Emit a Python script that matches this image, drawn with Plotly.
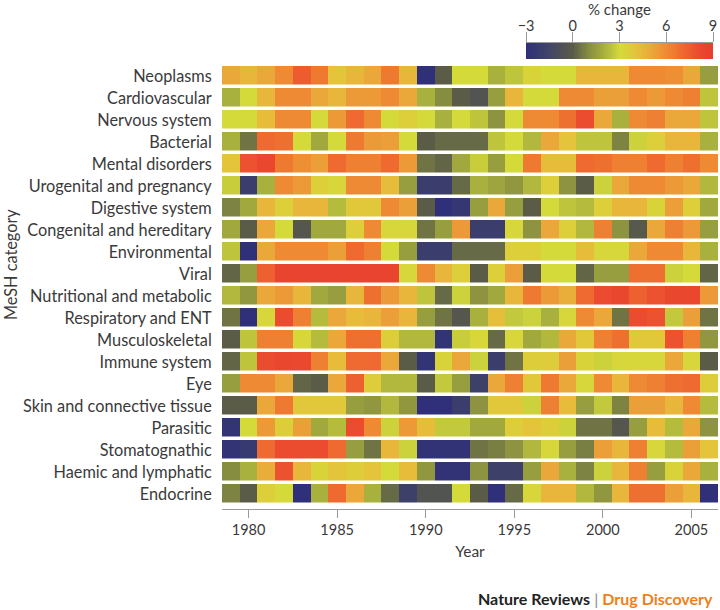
import numpy as np
import plotly.graph_objects as go

# MeSH categories (top to bottom) and years
categories = [
    "Neoplasms", "Cardiovascular", "Nervous system", "Bacterial", "Mental disorders",
    "Urogenital and pregnancy", "Digestive system", "Congenital and hereditary",
    "Environmental", "Viral", "Nutritional and metabolic", "Respiratory and ENT",
    "Musculoskeletal", "Immune system", "Eye", "Skin and connective tissue",
    "Parasitic", "Stomatognathic", "Haemic and lymphatic", "Endocrine",
]
years = list(range(1979, 2007))

# % change per category per year (1979 -> 2006)
neoplasms = [5, 4.5, 5, 6, 7.5, 6.5, 4, 4.5, 5, 6.5, 4.5, -3, 0, 3,
             3, 2, 2.5, 3.3, 3, 3, 4.5, 4.5, 4.5, 6, 6, 5.8, 5, 1.5]
cardiovascular = [2, 3, 4.5, 6, 6, 5, 4.5, 5.5, 5.5, 6, 5, 2, 1, 0,
                  -0.5, 1.5, 4.5, 3, 3, 6, 6, 5.3, 5.3, 6, 5.5, 6, 6.3, 2.5]
nervous = [3, 3, 4.3, 6, 6, 3, 5.5, 7, 6, 3, 3.5, 3, 2, 3,
           2.5, 1.2, 3, 6, 6, 6.8, 8, 5, 2, 6, 6.3, 5, 5, 2.5]
bacterial = [2, 0.5, 7, 6.8, 3, 1.8, 3, 6.5, 5.5, 5.3, 3, 0, 0.3, 0.3,
             0.3, 2.5, 3, 2.2, 5, 4, 2.5, 2.5, 0.8, 2.8, 3.5, 4.5, 4.5, 2]
mental = [4, 7.8, 8.3, 6.5, 5.8, 5.3, 7, 6.3, 6.3, 7, 5.5, 0.5, 0.2, 1.8,
          2.7, 1.5, 3, 6.5, 4.3, 4.3, 7, 6.8, 6.3, 6.3, 7, 6.3, 6.8, 6]
urogenital = [2.7, -2, 2, 6, 5.5, 3.5, 3.2, 6, 6, 4.3, 1.5, -2, -2, 0.3,
              2, 1.7, 1.3, 2.2, 3.5, 1.2, 0, 2.8, 5, 6, 6, 5.5, 5, 2.2]
digestive = [0.8, 1.8, 4.5, 3.5, 4.5, 4.5, 2.3, 3.8, 3.8, 6, 5.3, 0, -3, -2.5,
             1.5, 5, 1.5, 0, 3, 2.5, 2.3, 3.5, 4.5, 4.5, 3.3, 5.3, 3.5, 1.8]
congenital = [1.8, 0, 5, 3, -0.3, 1.8, 1.8, 3.5, 6, 3.2, 3.2, 0.5, 1.5, 5.5,
              -2, -2, 3.2, 1.2, 5, 3.5, 2.2, 6.3, 1.2, -0.2, 5, 6.3, 5.5, 1.5]
environmental = [2.5, -3, 5, 6, 6, 6, 5.3, 7, 6.3, 3, 1.5, -2, -2, 0.3,
                 0.3, 0.3, 3.5, 3.5, 3, 3, 4.3, 3.2, 3.2, 5, 6, 6, 4.5, 2]
viral = [0.2, 1.5, 7.3, 8.5, 8.5, 8.5, 8.5, 8.5, 8.5, 8.5, 3.2, 6, 4.5, 3.5,
         0, 3.5, 5.3, 0, 3, 3, 0.2, 1.5, 1.5, 6.8, 6.8, 2.8, 3, 0.2]
nutritional = [2.2, 1.3, 5, 5.5, 4.5, 1.8, 1.5, 4.5, 6.8, 5.5, 4.5, 2.5, 0.3, 2.8,
               1.2, 1.8, 4.5, 6.5, 5.5, 4.8, 7, 8, 8.3, 7.3, 7.8, 8.3, 8.3, 5.5]
respiratory = [0.5, -3, 3.2, 8, 6.3, 2.3, 5, 4.3, 4.5, 5.3, 4.5, 1.5, 0.5, -0.3,
               2, 4.2, 2.6, 2.8, 2, 3.2, 6, 5, 0.5, 8, 7.8, 2.6, 5.3, 0.5]
musculoskeletal = [0, 2.5, 6.3, 6.3, 3.2, 2.3, 5, 6.8, 6.8, 3.6, 2.2, 2.2, -2.7, 2.7,
                   3.2, 0.3, 3.2, 1.8, 2.2, 5, 3.8, 6.3, 6.8, 3.8, 3.8, 7.8, 6.3, 1.3]
immune = [0.2, 2.5, 8, 8.3, 8.2, 6.3, 4.3, 7, 7, 5, 0, -2.7, 3.3, 5,
          2.8, -2, 0.5, 3.6, 3.6, 5.3, 3.3, 2.8, 3.2, 3.2, 3.2, 5, 3.2, 0]
eye = [1.5, 6, 6, 5, 0.2, 0, 5, 7.3, 3.6, 2.2, 2.2, 0, 2.6, 1.5,
       -1.8, 5, 6.3, 3.8, 6.5, 5, 3.2, 6, 4.5, 6, 6.3, 6.8, 7, 3.6]
skin = [0, 0, 5, 6.5, 3.8, 3.8, 3.8, 1.5, 1.3, 2.2, 1.3, -3, -3, -2,
        1.2, 3.8, 3.8, 2.8, 6.3, 4.3, 1.5, 2.6, 0.8, 5.3, 5.3, 4.5, 6, 2.3]
parasitic = [-2.7, 3, 5.5, 3.6, 5.3, 1.8, 2.3, 8, 6, 2.8, 5.5, 4.3, 2.6, 2.6,
             1.8, 1.8, 3.6, 4, 3.6, 2.8, 0.5, 0.5, -0.3, 1.5, 4.3, 2.3, 5, 1.2]
stomatognathic = [-2.7, -2.3, 7, 8, 8, 8, 7, 1.5, 0.5, 4.5, 2.8, -2.8, -2.8, -2.8,
                  0.5, 0.7, 1.2, 2.2, 3.2, 1.5, 0.7, 5.3, 4.5, 6.3, 3.2, 2.3, 5.3, 4]
haemic = [1, 2, 4.8, 7.8, 4.5, 3.3, 4, 3.6, 4, 3, 4.3, 1.3, -2.8, -2.8,
          1.2, -1.8, -1.8, 1.5, 5, 2, 0.8, 2.8, 4.5, 6.3, 1.5, 3.3, 5, 2]
endocrine = [0.8, 0, 3.5, 3, -3, 2, 7, 5, 2, 0.3, -1.8, -0.5, -0.5, 3,
             0, -3, 0.3, 3.2, 4.5, 4.5, 2.2, 1.3, 4.5, 6.8, 6.8, 5.3, 4.5, -3]

rows = [neoplasms, cardiovascular, nervous, bacterial, mental, urogenital,
        digestive, congenital, environmental, viral, nutritional, respiratory,
        musculoskeletal, immune, eye, skin, parasitic, stomatognathic, haemic,
        endocrine]

cbar_ticks = [-3, 0, 3, 6, 9]

colorscale = [
    [0.0, "#2f3079"], [0.125, "#414566"], [0.25, "#5a5c48"],
    [0.333, "#868c40"], [0.417, "#a8b03e"], [0.5, "#d4da3a"],
    [0.583, "#e4c43a"], [0.667, "#eaa83a"], [0.75, "#ee8a34"],
    [0.833, "#ee6a30"], [0.917, "#eb4c30"], [1.0, "#e63c2e"],
]

FONT = "Lato, 'Open Sans', sans-serif"
TXT = "#3a3a3a"

# plot area spans page y 0..509, x 222..718
H_PLOT = 509.0


def py(page_y):
    return (H_PLOT - page_y) / H_PLOT


CB_DOMAIN = [0.613, 0.99]

fig = go.Figure()

fig.add_trace(go.Heatmap(
    z=rows, x=years, y=list(range(len(categories))),
    colorscale=colorscale, zmin=-3, zmax=9, showscale=False,
    ygap=3.5, xgap=0, hoverinfo="skip",
))

# colour key drawn as a thin heatmap on its own axes
grad = np.linspace(cbar_ticks[0], cbar_ticks[-1], 121)
fig.add_trace(go.Heatmap(
    z=[grad, grad], x=grad, y=[0, 1],
    colorscale=colorscale, zmin=-3, zmax=9, showscale=False,
    xaxis="x2", yaxis="y2", hoverinfo="skip",
))

fig.update_layout(
    width=720, height=610,
    margin=dict(l=222, r=2, t=0, b=101),
    plot_bgcolor="white", paper_bgcolor="white",
    font=dict(family=FONT, color=TXT, size=15),
    xaxis=dict(
        range=[1978.5, 2006.5], tickvals=[1980, 1985, 1990, 1995, 2000, 2005],
        ticks="outside", ticklen=8, tickcolor="#9a9a9a", tickwidth=1,
        showline=True, linecolor="#9a9a9a", linewidth=1, showgrid=False,
        zeroline=False, tickfont=dict(size=14.5), automargin=False,
        title=dict(text="Year", font=dict(size=15.5), standoff=8),
    ),
    yaxis=dict(
        domain=[0, py(65)], range=[19.69, -0.5],
        tickvals=list(range(len(categories))), ticktext=categories,
        ticks="outside", ticklen=6, tickcolor="rgba(0,0,0,0)",
        showline=False, showgrid=False, zeroline=False, automargin=False,
        tickfont=dict(size=16.3),
    ),
    # key axis: tick marks only
    xaxis2=dict(
        domain=CB_DOMAIN, anchor="y2", side="top",
        range=[cbar_ticks[0], cbar_ticks[-1]], tickvals=cbar_ticks,
        ticks="outside", ticklen=10, tickcolor="#9a9a9a",
        showticklabels=False,
        showline=True, linecolor="#9a9a9a", showgrid=False, zeroline=False,
        automargin=False,
    ),
    # key axis: labels only, sitting closer to the bar
    xaxis3=dict(
        domain=CB_DOMAIN, anchor="y2", side="top", overlaying="x2",
        range=[cbar_ticks[0], cbar_ticks[-1]], tickvals=cbar_ticks,
        ticks="outside", ticklen=5, tickcolor="rgba(0,0,0,0)",
        showline=False, showgrid=False, zeroline=False,
        tickfont=dict(size=14.5), automargin=False,
    ),
    yaxis2=dict(
        domain=[py(59), py(43)], anchor="x2", range=[-0.5, 1.5],
        showticklabels=False, showgrid=False, zeroline=False, ticks="",
        automargin=False,
    ),
    annotations=[
        dict(text="% change", xref="paper", yref="paper",
             x=(CB_DOMAIN[0] + CB_DOMAIN[1]) / 2, y=py(9),
             xanchor="center", yanchor="middle",
             showarrow=False, font=dict(size=15)),
        dict(text="MeSH category", textangle=-90, xref="paper", yref="paper",
             x=(10 - 222) / 496, y=py(265), xanchor="center", yanchor="middle",
             showarrow=False, font=dict(size=16.3)),
        dict(text="<b>Nature Reviews</b> <span style='color:#888'>|</span> "
                  "<b><span style='color:#f07f1a'>Drug Discovery</span></b>",
             xref="paper", yref="paper", x=(715 - 222) / 496, y=py(598),
             xanchor="right", yanchor="middle", showarrow=False,
             font=dict(size=16, color="#222")),
    ],
)

# an invisible trace keeps xaxis3 drawn
fig.add_trace(go.Scatter(x=[cbar_ticks[0]], y=[0], xaxis="x3", yaxis="y2",
                         mode="markers", marker=dict(opacity=0),
                         showlegend=False, hoverinfo="skip"))

# drop the page's default body margin so the figure sits at the window origin
fig.write_html("out.html", config={"displayModeBar": False},
               post_script="document.body.style.margin='0';")
